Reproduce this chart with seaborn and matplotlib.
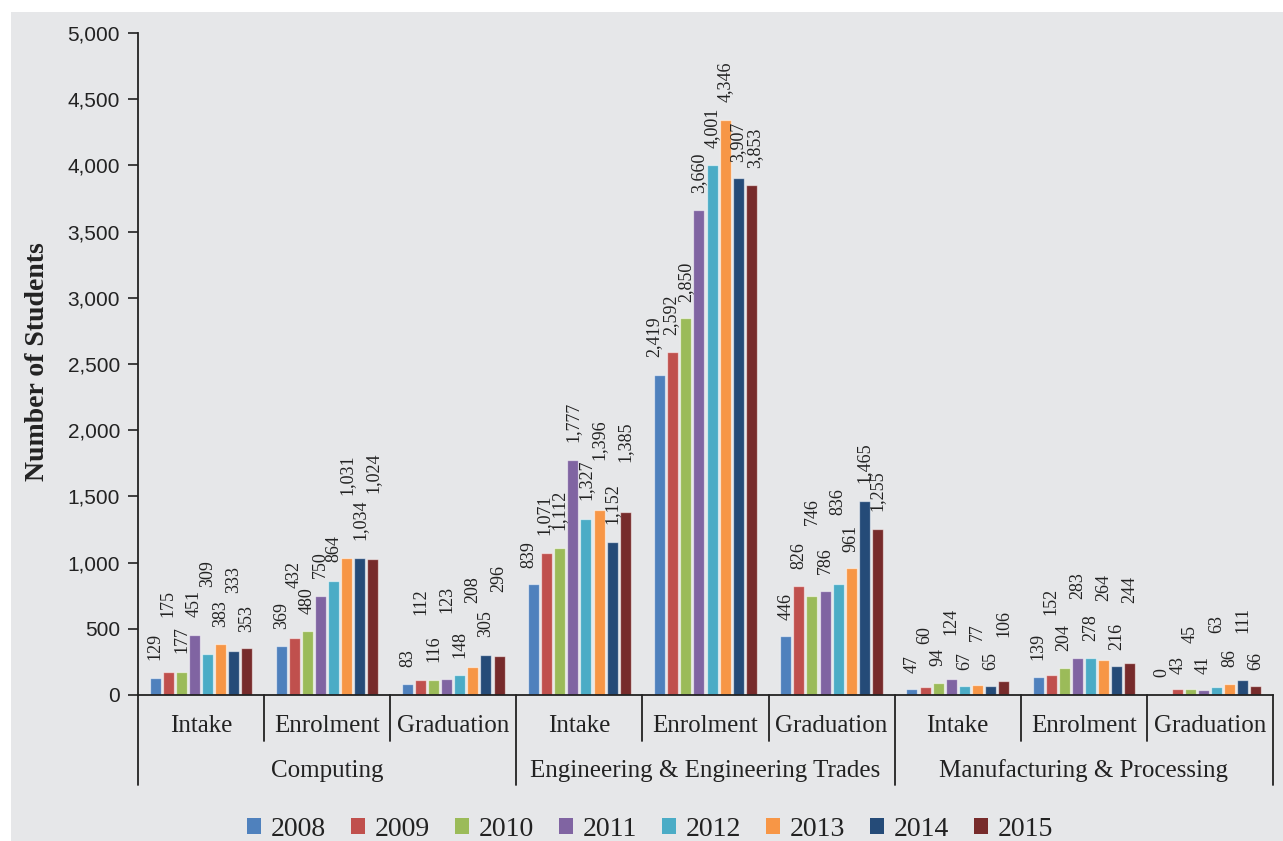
import matplotlib
matplotlib.use("Agg")
import matplotlib.pyplot as plt
from matplotlib.patches import Rectangle, Patch
import numpy as np
import pandas as pd
import seaborn as sns

# ---------------- data ----------------
FIELDS = ["Computing", "Engineering & Engineering Trades", "Manufacturing & Processing"]
STAGES = ["Intake", "Enrolment", "Graduation"]
YEARS = ["2008", "2009", "2010", "2011", "2012", "2013", "2014", "2015"]

computing_intake = [129, 175, 177, 451, 309, 383, 333, 353]
computing_enrolment = [369, 432, 480, 750, 864, 1031, 1034, 1024]
computing_graduation = [83, 112, 116, 123, 148, 208, 305, 296]
engineering_intake = [839, 1071, 1112, 1777, 1327, 1396, 1152, 1385]
engineering_enrolment = [2419, 2592, 2850, 3660, 4001, 4346, 3907, 3853]
engineering_graduation = [446, 826, 746, 786, 836, 961, 1465, 1255]
manufacturing_intake = [47, 60, 94, 124, 67, 77, 65, 106]
manufacturing_enrolment = [139, 152, 204, 283, 278, 264, 216, 244]
manufacturing_graduation = [0, 43, 45, 41, 63, 86, 111, 66]

Y_TICKS = [0, 500, 1000, 1500, 2000, 2500, 3000, 3500, 4000, 4500, 5000]

SERIES = [
    computing_intake, computing_enrolment, computing_graduation,
    engineering_intake, engineering_enrolment, engineering_graduation,
    manufacturing_intake, manufacturing_enrolment, manufacturing_graduation,
]

# ---------------- style ----------------
COLORS = ["#4F81BD", "#C0504D", "#9BBB59", "#8064A2",
          "#4BACC6", "#F79646", "#254B78", "#772B2B"]
BG = "#E6E7E9"
# vertical distance (pixels) between bar top and the start of its rotated label
LABEL_GAP_PX = [
    [18, 55, 19, 18, 67, 17, 58, 16],
    [17, 50, 17, 18, 19, 63, 18, 66],
    [17, 65, 18, 66, 17, 64, 18, 64],
    [16, 18, 18, 18, 19, 50, 18, 50],
    [18, 17, 16, 17, 17, 18, 16, 17],
    [16, 17, 71, 17, 69, 16, 18, 18],
    [16, 43, 17, 44, 16, 44, 16, 44],
    [17, 60, 17, 59, 17, 59, 16, 60],
    [18, 15, 46, 16, 54, 17, 47, 16],
]
# horizontal nudge (pixels) of a few crowded labels
LABEL_NUDGE_PX = [
    [0, 0, 0, 0, 0, 0, 0, 0],
    [0, 0, 0, 0, 0, 0, 0, 0],
    [0, 0, 0, 0, 0, 0, 0, 0],
    [-5, -3, -1, 0, 0, 0, 0, 0],
    [-6, -2, 0, 0, 0, 0, 0, 3],
    [0, 0, 0, 0, 0, 0, 0, 0],
    [0, 0, 0, 0, 0, 0, 0, 0],
    [0, 0, 0, 0, 0, 0, 0, 0],
    [-2, 1, 0, 0, 0, 0, 0, 0],
]

SERIF = "Liberation Serif"
SANS = "Liberation Sans"

group_keys = [f"{f}|{s}" for f in FIELDS for s in STAGES]
rows = []
for key, vals in zip(group_keys, SERIES):
    for yr, v in zip(YEARS, vals):
        rows.append({"group": key, "year": yr, "value": v})
df = pd.DataFrame(rows)

sns.set_style("ticks")
plt.rcParams["font.family"] = [SANS, "DejaVu Sans"]

W, H = 1283, 841
fig = plt.figure(figsize=(W / 100, H / 100), dpi=100, facecolor="white")
fig.patches.append(Rectangle((11 / W, 0), 1, 1 - 12 / H, transform=fig.transFigure,
                             facecolor=BG, edgecolor="none", zorder=-10))

ax = fig.add_axes([138 / W, 1 - 695 / H, (1273 - 138) / W, (695 - 33) / H])
ax.set_facecolor("none")

sns.barplot(data=df, x="group", y="value", hue="year", order=group_keys,
            hue_order=YEARS, palette=COLORS, saturation=1, width=0.83, gap=0.16,
            edgecolor=(1, 1, 1, 0.55), linewidth=0.9, legend=False, ax=ax, errorbar=None)

ax.set_xlim(-0.5, len(group_keys) - 0.5)
ax.set_ylim(0, 5000)
ax.set_yticks(Y_TICKS)
ax.set_yticklabels([f"{t:,}" for t in Y_TICKS], fontsize=15, color="#222222")
ax.tick_params(axis="y", length=7, width=1.2, pad=6, color="#222222")
ax.set_xticks([])
ax.set_xlabel("")
ax.set_ylabel("")
for s in ["top", "right"]:
    ax.spines[s].set_visible(False)
for s in ["left", "bottom"]:
    ax.spines[s].set_color("#222222")
    ax.spines[s].set_linewidth(1.3)

# data labels
for yi, cont in enumerate(ax.containers):
    for gi, bar in enumerate(cont):
        val = SERIES[gi][yi]
        cx = bar.get_x() + bar.get_width() / 2
        ax.annotate(f"{val:,}", xy=(cx, val),
                    xytext=(LABEL_NUDGE_PX[gi][yi] * 0.72, LABEL_GAP_PX[gi][yi] * 0.72),
                    textcoords="offset points", rotation=90, ha="center", va="bottom",
                    fontsize=13, family=SERIF, color="#222222", annotation_clip=False)

# two-level category axis
tr = ax.get_xaxis_transform()
px = 1 / (695 - 33)
n = len(group_keys)
for i in range(n + 1):
    x = i - 0.5
    major = (i % len(STAGES) == 0)
    y1 = -(90 * px) if major else -(46 * px)
    ax.plot([x, x], [0, y1], transform=tr, color="#222222", lw=1.3, clip_on=False)
for i, key in enumerate(group_keys):
    ax.text(i, -31 * px, key.split("|")[1], transform=tr, ha="center", va="center",
            fontsize=18, family=SERIF, color="#222222")
for j, f in enumerate(FIELDS):
    ax.text(j * len(STAGES) + 1, -76 * px, f, transform=tr, ha="center", va="center",
            fontsize=18, family=SERIF, color="#222222")

fig.text(38 / W, 1 - 362 / H, "Number of Students", rotation=90, ha="center", va="center",
         fontsize=20, fontweight="bold", family=SERIF, color="#222222")

handles = [Patch(facecolor=c, edgecolor="none") for c in COLORS]
leg = fig.legend(handles, YEARS, loc="center", bbox_to_anchor=(650 / W, 12 / H), ncol=8,
                 frameon=False, prop={"family": SERIF, "size": 20}, handlelength=0.5,
                 handleheight=0.5, handletextpad=0.35, columnspacing=0.9)
for t in leg.get_texts():
    t.set_color("#222222")

fig.savefig("out.png", dpi=100, facecolor="white")
